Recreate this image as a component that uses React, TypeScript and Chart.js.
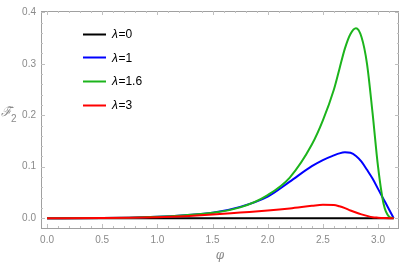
import React, { useEffect, useRef } from "react";
import { Chart, registerables } from "chart.js";

Chart.register(...registerables);

const phi = [0, 0.5, 1.0, 1.25, 1.5, 1.75, 2.0, 2.2, 2.4, 2.5, 2.6, 2.65, 2.7, 2.75, 2.8, 2.85, 2.9, 2.95, 3.0, 3.05, 3.1, 3.1416];
const lambda0 = [0, 0, 0, 0, 0, 0, 0, 0, 0, 0, 0, 0, 0, 0, 0, 0, 0, 0, 0, 0, 0, 0];
const lambda1 = [0, 0.0003, 0.003, 0.006, 0.0105, 0.022, 0.042, 0.071, 0.101, 0.113, 0.122, 0.126, 0.128, 0.127, 0.121, 0.11, 0.094, 0.077, 0.057, 0.037, 0.017, 0];
const lambda16 = [0, 0.0003, 0.003, 0.006, 0.0105, 0.021, 0.045, 0.079, 0.143, 0.19, 0.25, 0.29, 0.33, 0.358, 0.369, 0.352, 0.3, 0.205, 0.1, 0.028, 0.003, 0];
const lambda3 = [0, 0.0002, 0.002, 0.004, 0.007, 0.011, 0.015, 0.019, 0.024, 0.0262, 0.0258, 0.0232, 0.0195, 0.015, 0.011, 0.0075, 0.0045, 0.002, 0.001, 0.0003, 0, 0];
const seriesLabels = ["λ=0", "λ=1", "λ=1.6", "λ=3"];
const seriesColors = ["#000000", "#0000ff", "#1cb41c", "#ff0000"];
const xTicks = [0, 0.5, 1.0, 1.5, 2.0, 2.5, 3.0];
const yTicks = [0, 0.1, 0.2, 0.3, 0.4];

const FONT = "'Liberation Sans', Arial, sans-serif";
const GRAY = "#8a8a8a";

const framePlugin = {
  id: "frame",
  afterDraw(chart: any) {
    const { ctx, chartArea: a } = chart;
    const xs = chart.scales.x;
    const ys = chart.scales.y;
    ctx.save();
    ctx.strokeStyle = "#a0a0a0";
    ctx.lineWidth = 1;
    ctx.strokeRect(a.left + 0.5, a.top + 0.5, a.right - a.left - 1, a.bottom - a.top);
    ctx.strokeStyle = "#c0c0c0";
    for (let i = 0; i <= 31; i++) {
      const v = i / 10;
      const px = Math.round(xs.getPixelForValue(v)) + 0.5;
      const len = i % 5 === 0 ? 4 : 2;
      ctx.beginPath();
      ctx.moveTo(px, a.bottom);
      ctx.lineTo(px, a.bottom - len);
      ctx.moveTo(px, a.top);
      ctx.lineTo(px, a.top + len);
      ctx.stroke();
    }
    for (let i = 0; i <= 20; i++) {
      const v = i * 0.02;
      const py = Math.round(ys.getPixelForValue(v)) + 0.5;
      const len = i % 5 === 0 ? 4 : 2;
      ctx.beginPath();
      ctx.moveTo(a.left, py);
      ctx.lineTo(a.left + len, py);
      ctx.moveTo(a.right, py);
      ctx.lineTo(a.right - len, py);
      ctx.stroke();
    }
    // y title
    ctx.fillStyle = GRAY;
    ctx.textBaseline = "middle";
    ctx.textAlign = "left";
    ctx.font = "italic 13px 'DejaVu Serif', serif";
    ctx.fillText("ℱ̃", 1, 113);
    ctx.font = "10px " + FONT;
    ctx.fillText("2", 11, 119);
    // legend
    const ds = chart.data.datasets;
    for (let i = 0; i < ds.length; i++) {
      const y = 33.5 + i * 23.7;
      ctx.strokeStyle = ds[i].borderColor;
      ctx.lineWidth = 2;
      ctx.beginPath();
      ctx.moveTo(83, Math.round(y) + 0.5);
      ctx.lineTo(106, Math.round(y) + 0.5);
      ctx.stroke();
      ctx.fillStyle = "#000";
      ctx.textAlign = "left";
      ctx.textBaseline = "middle";
      const lbl = ds[i].label as string;
      ctx.font = "italic 12px " + FONT;
      ctx.fillText(lbl.slice(0, 1), 112, y + 1);
      const w = ctx.measureText(lbl.slice(0, 1)).width;
      ctx.font = "12px " + FONT;
      ctx.fillText(lbl.slice(1), 112 + w + 0.5, y + 1);
    }
    ctx.restore();
  },
};

export default function App() {
  const ref = useRef<HTMLCanvasElement>(null);
  useEffect(() => {
    document.body.style.margin = "0";
    const series = [lambda0, lambda1, lambda16, lambda3];
    const chart = new Chart(ref.current!, {
      type: "line",
      data: {
        datasets: series.map((s, i) => ({
          label: seriesLabels[i],
          data: phi.map((x, j) => ({ x, y: s[j] })),
          borderColor: seriesColors[i],
          backgroundColor: seriesColors[i],
          borderWidth: 2,
          pointRadius: 0,
          cubicInterpolationMode: "monotone" as const,
          order: i === 0 ? 10 : 3 - i,
        })),
      },
      options: {
        responsive: false,
        animation: false,
        layout: { padding: { left: 0, right: 6, top: 6, bottom: 0 } },
        plugins: { legend: { display: false }, tooltip: { enabled: false } },
        scales: {
          x: {
            type: "linear",
            min: -0.055,
            max: 3.19,
            afterFit: (s: any) => { s.height = 35; },
            afterBuildTicks: (s: any) => { s.ticks = xTicks.map((v) => ({ value: v })); },
            grid: { display: false, drawTicks: false },
            border: { display: false },
            ticks: {
              color: GRAY,
              font: { size: 10, family: FONT },
              padding: 6,
              callback: (v: any) => Number(v).toFixed(1),
            },
            title: {
              display: true,
              text: "φ",
              color: GRAY,
              font: { size: 12, style: "italic", family: "'DejaVu Serif', serif" },
              padding: { top: 0, bottom: 0 },
            },
          },
          y: {
            type: "linear",
            min: -0.019,
            max: 0.4025,
            afterFit: (s: any) => { s.width = 41; },
            afterBuildTicks: (s: any) => { s.ticks = yTicks.map((v) => ({ value: v })); },
            grid: { display: false, drawTicks: false },
            border: { display: false },
            ticks: {
              color: GRAY,
              font: { size: 10, family: FONT },
              padding: 5,
              callback: (v: any) => Number(v).toFixed(1),
            },
          },
        },
      },
      plugins: [framePlugin],
    });
    return () => chart.destroy();
  }, []);
  return <canvas ref={ref} width={405} height={263} style={{ display: "block" }} />;
}
